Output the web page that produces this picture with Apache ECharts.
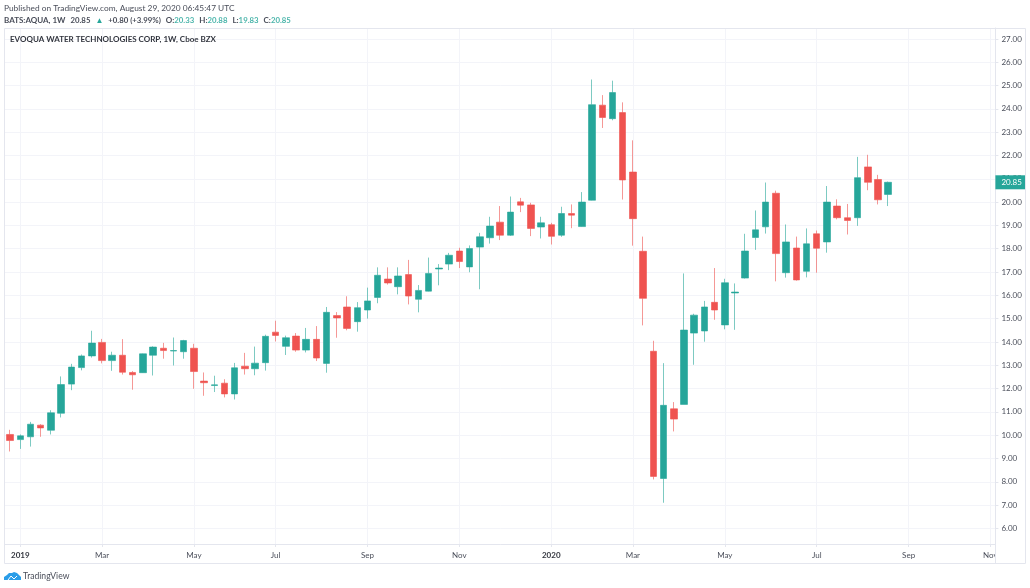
<!DOCTYPE html>
<html>
<head>
<meta charset="utf-8">
<title>AQUA 1W</title>
<script src="https://cdn.jsdelivr.net/npm/echarts@6/dist/echarts.min.js"></script>
<style>
html, body { margin: 0; padding: 0; background: #fff; }
#main { width: 1030px; height: 588px; }
</style>
</head>
<body>
<div id="main"></div>
<script>
// week start of each bar, the tail past Aug 2020 is the empty room on the right of the chart
var weeks = [
    '2018-12-31',
    '2019-01-07', '2019-01-14', '2019-01-21', '2019-01-28',
    '2019-02-04', '2019-02-11', '2019-02-18', '2019-02-25',
    '2019-03-04', '2019-03-11', '2019-03-18', '2019-03-25',
    '2019-04-01', '2019-04-08', '2019-04-15', '2019-04-22', '2019-04-29',
    '2019-05-06', '2019-05-13', '2019-05-20', '2019-05-27',
    '2019-06-03', '2019-06-10', '2019-06-17', '2019-06-24',
    '2019-07-01', '2019-07-08', '2019-07-15', '2019-07-22', '2019-07-29',
    '2019-08-05', '2019-08-12', '2019-08-19', '2019-08-26',
    '2019-09-02', '2019-09-09', '2019-09-16', '2019-09-23', '2019-09-30',
    '2019-10-07', '2019-10-14', '2019-10-21', '2019-10-28',
    '2019-11-04', '2019-11-11', '2019-11-18', '2019-11-25',
    '2019-12-02', '2019-12-09', '2019-12-16', '2019-12-23', '2019-12-30',
    '2020-01-06', '2020-01-13', '2020-01-20', '2020-01-27',
    '2020-02-03', '2020-02-10', '2020-02-17', '2020-02-24',
    '2020-03-02', '2020-03-09', '2020-03-16', '2020-03-23', '2020-03-30',
    '2020-04-06', '2020-04-13', '2020-04-20', '2020-04-27',
    '2020-05-04', '2020-05-11', '2020-05-18', '2020-05-25',
    '2020-06-01', '2020-06-08', '2020-06-15', '2020-06-22', '2020-06-29',
    '2020-07-06', '2020-07-13', '2020-07-20', '2020-07-27',
    '2020-08-03', '2020-08-10', '2020-08-17', '2020-08-24', '2020-08-31',
    '2020-09-07', '2020-09-14', '2020-09-21', '2020-09-28',
    '2020-10-05', '2020-10-12', '2020-10-19', '2020-10-26',
    '2020-11-02'
];

var opens = [
    10.03, 9.81, 9.93, 10.43, 10.21, 10.94, 12.19, 12.90, 13.40, 13.98,
    13.20, 13.43, 12.69, 12.68, 13.43, 13.73, 13.61, 13.58, 13.73, 12.32,
    12.13, 12.23, 11.77, 12.96, 12.85, 13.11, 14.42, 13.81, 14.25, 13.65,
    14.11, 13.08, 15.13, 15.50, 14.87, 15.37, 15.91, 16.70, 16.37, 16.89,
    15.83, 16.18, 17.13, 17.34, 17.90, 17.22, 18.07, 18.47, 19.14, 18.58,
    20.01, 19.88, 18.93, 19.03, 18.58, 19.51, 18.95, 20.08, 24.16, 23.58,
    23.84, 21.29, 17.89, 13.60, 8.14, 11.13, 11.32, 14.38, 14.47, 15.70,
    14.73, 16.10, 16.74, 18.48, 18.94, 20.38, 16.97, 18.03, 17.03, 18.64,
    18.29, 19.83, 19.33, 19.33, 21.51, 20.97, 20.33
];
var closes = [
    9.77, 9.97, 10.47, 10.31, 10.96, 12.17, 12.92, 13.40, 13.95, 13.20,
    13.43, 12.70, 12.59, 13.49, 13.78, 13.63, 13.63, 14.06, 12.73, 12.25,
    12.16, 11.77, 12.89, 12.85, 13.09, 14.24, 14.28, 14.18, 13.65, 14.11,
    13.31, 15.27, 15.03, 14.58, 15.47, 15.76, 16.86, 16.53, 16.83, 15.97,
    16.21, 16.94, 17.17, 17.72, 17.45, 18.01, 18.51, 18.97, 18.58, 19.57,
    19.87, 18.87, 19.11, 18.53, 19.51, 19.44, 20.00, 24.18, 23.63, 24.70,
    20.95, 19.29, 15.87, 8.23, 11.28, 10.69, 14.51, 15.15, 15.50, 15.37,
    16.54, 16.14, 17.90, 18.81, 20.00, 17.79, 18.29, 16.66, 18.21, 18.02,
    20.00, 19.33, 19.21, 21.05, 20.85, 20.10, 20.85
];
var lows = [
    9.30, 9.41, 9.51, 9.93, 10.03, 10.76, 11.93, 12.78, 13.33, 13.08,
    12.76, 12.60, 11.95, 12.67, 12.56, 13.28, 12.99, 13.28, 11.99, 11.69,
    11.85, 11.62, 11.53, 12.60, 12.57, 12.77, 14.02, 13.44, 13.58, 13.55,
    13.18, 12.68, 14.18, 14.50, 14.44, 15.00, 15.66, 16.46, 16.04, 15.61,
    15.27, 16.17, 16.43, 17.08, 17.17, 16.99, 16.26, 18.22, 18.37, 18.55,
    19.57, 18.54, 18.44, 18.18, 18.51, 18.88, 18.94, 20.07, 23.18, 23.51,
    20.11, 18.13, 14.71, 8.10, 7.10, 10.16, 11.32, 13.02, 14.01, 14.95,
    14.54, 14.52, 16.72, 17.95, 18.65, 16.60, 16.76, 16.63, 16.77, 16.97,
    17.83, 19.26, 18.61, 18.98, 20.51, 19.90, 19.83
];
var highs = [
    10.23, 10.03, 10.57, 10.47, 11.07, 12.52, 13.06, 13.46, 14.48, 14.13,
    13.58, 14.12, 12.75, 13.50, 13.81, 13.96, 14.19, 14.09, 13.92, 12.69,
    12.55, 12.40, 13.10, 13.53, 13.80, 14.31, 14.91, 14.27, 14.38, 14.60,
    14.68, 15.50, 15.28, 15.96, 15.71, 16.33, 17.20, 17.20, 17.20, 17.52,
    16.44, 17.62, 17.34, 17.82, 18.04, 18.14, 18.68, 19.37, 19.83, 20.24,
    20.18, 19.97, 19.37, 19.11, 19.80, 19.90, 20.43, 25.26, 24.59, 25.21,
    24.28, 22.65, 18.52, 14.05, 13.09, 11.42, 16.94, 15.21, 15.76, 17.17,
    16.71, 16.51, 18.64, 19.64, 20.84, 20.49, 19.04, 18.52, 18.87, 18.78,
    20.69, 20.12, 19.92, 21.94, 22.03, 21.17, 20.88
];

// which weeks carry a label on the time axis
var timeTickWeeks = ['2019-01-07', '2019-03-04', '2019-05-06', '2019-07-01', '2019-09-02', '2019-11-04',
    '2020-01-06', '2020-03-02', '2020-05-04', '2020-07-06', '2020-09-07', '2020-11-02'];
var timeTickLabels = ['2019', 'Mar', 'May', 'Jul', 'Sep', 'Nov', '2020', 'Mar', 'May', 'Jul', 'Sep', 'Nov'];

var priceTicks = [6, 7, 8, 9, 10, 11, 12, 13, 14, 15, 16, 17, 18, 19, 20, 21, 22, 23, 24, 25, 26, 27];

var lastPrice = 20.85;
var fontName = 'Lato, sans-serif';
var fontSize = 8;
var upColor = '#26a69a';
var downColor = '#ef5350';
var gridColor = '#f3f4f9';
var frameColor = '#e4e6ee';
var textColor = '#4a4e5a';

var candles = opens.map(function (o, i) {
    return [o, closes[i], lows[i], highs[i]];
});

function isTimeTick(index) {
    return timeTickWeeks.indexOf(weeks[index]) >= 0;
}

var myChart = echarts.init(document.getElementById('main'));

var option = {
    animation: false,
    backgroundColor: '#fff',
    title: [
        {
            text: 'Published on TradingView.com, August 29, 2020 06:45:47 UTC',
            left: 4, top: 4, padding: 0,
            textStyle: { fontFamily: fontName, fontSize: 8.35, fontWeight: 'normal', color: textColor }
        },
        {
            text: '{b|BATS:AQUA, 1W} {n|20.85} {u|▲} {n|+0.80 (+3.99%)} {b|O:}{v|20.33} {b|H:}{v|20.88} {b|L:}{v|19.83} {b|C:}{v|20.85}',
            left: 4, top: 11, padding: 0,
            textStyle: {
                rich: {
                    b: { fontFamily: fontName, fontSize: fontSize, fontWeight: 'bold', color: textColor },
                    n: { fontFamily: fontName, fontSize: 7.8, color: textColor },
                    u: { fontFamily: fontName, fontSize: 8, color: upColor },
                    v: { fontFamily: fontName, fontSize: 7.8, color: '#4db6ac' }
                }
            }
        },
        {
            text: 'EVOQUA WATER TECHNOLOGIES CORP, 1W, Cboe BZX',
            left: 10, top: 35, padding: 0,
            textStyle: { fontFamily: fontName, fontSize: fontSize, fontWeight: 'bold', color: '#33363f' }
        },
        {
            text: 'TradingView',
            left: 23, top: 572, padding: 0,
            textStyle: { fontFamily: fontName, fontSize: 8.6, fontWeight: 'normal', color: textColor }
        }
    ],
    grid: { left: 5, top: 28, width: 990.4, height: 516, show: false },
    xAxis: {
        type: 'category',
        data: weeks,
        boundaryGap: true,
        axisLine: { show: true, lineStyle: { color: frameColor } },
        axisTick: { show: true, alignWithLabel: true, length: 3, interval: isTimeTick, lineStyle: { color: frameColor } },
        splitLine: { show: true, alignWithLabel: true, interval: isTimeTick, lineStyle: { color: gridColor } },
        axisLabel: {
            interval: isTimeTick,
            margin: 7,
            fontFamily: fontName,
            fontSize: fontSize,
            color: textColor,
            formatter: function (value) {
                var label = timeTickLabels[timeTickWeeks.indexOf(value)];
                return /^20/.test(label) ? '{y|' + label + '}' : label;
            },
            rich: { y: { fontFamily: fontName, fontSize: fontSize, fontWeight: 'bold', color: '#33363f' } }
        }
    },
    yAxis: {
        type: 'value',
        position: 'right',
        min: 5.33,
        max: 27.47,
        axisLine: { show: true, lineStyle: { color: frameColor } },
        axisTick: { show: true, length: 3, customValues: priceTicks, lineStyle: { color: frameColor } },
        splitLine: { show: true, customValues: priceTicks, lineStyle: { color: gridColor } },
        axisLabel: {
            customValues: priceTicks,
            margin: 6,
            fontFamily: fontName,
            fontSize: fontSize,
            color: textColor,
            formatter: function (v) { return v.toFixed(2); }
        }
    },
    series: [
        {
            type: 'candlestick',
            data: candles,
            barWidth: 7,
            itemStyle: {
                color: upColor,
                color0: downColor,
                borderColor: 'rgba(38,166,154,0.6)',
                borderColor0: 'rgba(239,83,80,0.6)',
                borderWidth: 1
            },
            markLine: {
                silent: true,
                symbol: 'none',
                lineStyle: { color: 'transparent', width: 1 },
                data: [{ yAxis: lastPrice }],
                label: {
                    show: true,
                    position: 'end',
                    distance: 0,
                    formatter: lastPrice.toFixed(2),
                    fontFamily: fontName,
                    fontSize: fontSize,
                    color: '#fff',
                    backgroundColor: upColor,
                    padding: [3, 4, 3, 6]
                }
            }
        }
    ],
    graphic: [
        // outer frame of the widget, plus the corner under the price axis
        { type: 'rect', z: 5, shape: { x: 996, y: 545, width: 29, height: 18 }, style: { fill: '#fff' } },
        { type: 'rect', z: 6, shape: { x: 4.5, y: 28.5, width: 1021, height: 535 }, style: { fill: 'none', stroke: frameColor } },
        { type: 'line', z: 6, shape: { x1: 995.5, y1: 544, x2: 995.5, y2: 563 }, style: { stroke: frameColor } },
        {
            type: 'polygon', z: 6,
            shape: { points: [[4, 580], [4, 577], [7, 575], [9, 573], [12, 573], [14, 572], [17, 573], [19, 575], [21, 577], [21, 580]] },
            style: { fill: '#2a9de8' }
        },
        {
            type: 'polyline', z: 7,
            shape: { points: [[8, 580], [11, 576], [14, 579], [17, 576]] },
            style: { fill: 'none', stroke: '#fff', lineWidth: 1 }
        }
    ]
};

if (option && typeof option === "object") {
    myChart.setOption(option, true);
}
</script>
</body>
</html>
